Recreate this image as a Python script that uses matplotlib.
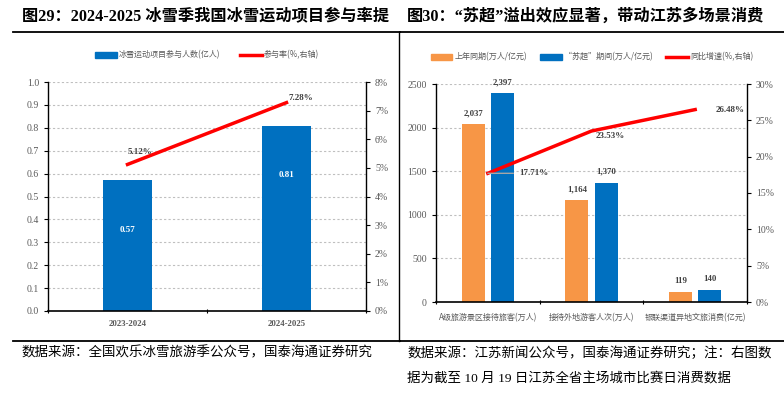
import numpy as np
import matplotlib
matplotlib.use('Agg')
from matplotlib import pyplot as plt
from matplotlib.lines import Line2D
from matplotlib.patches import Patch

plt.rcParams['font.family'] = ['Liberation Serif', 'Noto Sans CJK SC', 'DejaVu Sans']

# ---- data: left chart
seasons = ['2023-2024', '2024-2025']
participants = [0.57, 0.81]          # 亿人
part_rate = [5.12, 7.28]             # %

# ---- data: right chart
items = ['A级旅游景区接待旅客(万人)', '接待外地游客人次(万人)', '银联渠道异地文旅消费(亿元)']
last_year = [2037, 1164, 119]
suchao = [2397, 1370, 140]
yoy = [17.71, 23.53, 26.48]

BLUE = '#0070C0'
ORANGE = '#F79646'
RED = '#FF0000'
GRAY = '#595959'
DARK = '#404040'
serif = ['Liberation Serif']
sans = ['Noto Sans CJK SC', 'DejaVu Sans']
mixed = ['Liberation Serif', 'Noto Sans CJK SC']

W, H = 784, 397
fig = plt.figure(figsize=(W / 100, H / 100), dpi=100)


def fx(px):
    return px / W


def fy(py):
    return 1 - py / H


# frame lines and titles
for x0, x1 in [(13, 400), (400, 784)]:
    fig.add_artist(Line2D([fx(x0), fx(x1)], [fy(32), fy(32)], color='black', lw=1.3))
    fig.add_artist(Line2D([fx(x0), fx(x1)], [fy(341), fy(341)], color='black', lw=1.3))
fig.add_artist(Line2D([fx(399), fx(399)], [fy(32), fy(341)], color='black', lw=1.0))

fig.text(fx(22), fy(17), '图29：2024-2025 冰雪季我国冰雪运动项目参与率提', fontsize=11.7, fontweight='bold',
         va='center', ha='left', family=mixed)
fig.text(fx(407), fy(17), '图30：“苏超”溢出效应显著，带动江苏多场景消费', fontsize=11.7, fontweight='bold',
         va='center', ha='left', family=mixed)

fig.text(fx(22), fy(353), '数据来源：全国欢乐冰雪旅游季公众号，国泰海通证券研究', fontsize=9.7,
         va='center', ha='left', family=mixed)
fig.text(fx(407), fy(353), '数据来源：江苏新闻公众号，国泰海通证券研究；注：右图数', fontsize=9.7,
         va='center', ha='left', family=mixed)
fig.text(fx(407), fy(379), '据为截至 10 月 19 日江苏全省主场城市比赛日消费数据', fontsize=9.7,
         va='center', ha='left', family=mixed)


def style_axes(ax, ax2):
    for a in (ax, ax2):
        a.spines['top'].set_visible(False)
        a.set_facecolor('none')
    ax.spines['right'].set_visible(False)
    ax2.spines['left'].set_visible(False)
    ax2.spines['bottom'].set_visible(False)
    ax.spines['left'].set_linewidth(1.0)
    ax.spines['bottom'].set_linewidth(1.2)
    ax2.spines['right'].set_linewidth(1.0)
    for a in (ax, ax2):
        a.tick_params(axis='y', labelsize=7, color='black', length=3, direction='out', labelcolor=GRAY)
    for lab in ax.get_yticklabels() + ax2.get_yticklabels():
        lab.set_family(serif)
    ax.grid(axis='y', color='#BFBFBF', linestyle=(0, (2, 2)), lw=0.8)
    ax.set_axisbelow(True)


# ---------------- left chart
axL = fig.add_axes([fx(48), fy(311), fx(366 - 48), (311 - 82) / H])
xL = np.arange(len(seasons))
axL.bar(xL, participants, width=0.31, color=BLUE, zorder=2)
axL.set_xlim(-0.5, 1.5)
axL.set_ylim(0, 1.0)
axL.set_yticks(np.arange(0, 1.01, 0.1))
axL.set_yticklabels(['%.1f' % v for v in np.arange(0, 1.01, 0.1)])
axL.set_xticks([-0.5, 0.5, 1.5])
axL.set_xticklabels([])
axL.tick_params(axis='x', length=3, direction='inout')
for x, v in zip(xL, participants):
    axL.text(x, v - 0.215, '%.2f' % v, color='white', fontsize=6.5, fontweight='bold',
             ha='center', va='center', family=serif)
    axL.text(x, -0.057, seasons[x], color=GRAY, fontsize=6.3, fontweight='bold',
             ha='center', va='center', family=serif)
axL2 = axL.twinx()
axL2.plot(xL, part_rate, color=RED, lw=2.5, zorder=3)
axL2.set_ylim(0, 8)
axL2.set_yticks(range(0, 9))
axL2.set_yticklabels(['%d%%' % v for v in range(0, 9)])
axL2.text(xL[0], part_rate[0] + 0.43, '%.2f%%' % part_rate[0], fontsize=6.5, fontweight='bold',
          color=DARK, ha='left', va='center', family=serif)
axL2.text(xL[1] + 0.01, part_rate[1] + 0.16, '%.2f%%' % part_rate[1], fontsize=6.5, fontweight='bold',
          color=DARK, ha='left', va='center', family=serif)
style_axes(axL, axL2)

handlesL = [Patch(color=BLUE), Line2D([0], [0], color=RED, lw=2.5)]
fig.legend(handlesL, ['冰雪运动项目参与人数(亿人)', '参与率(%,右轴)'], loc='center',
           bbox_to_anchor=(fx(207), fy(55)), ncol=2, frameon=False,
           prop={'family': sans, 'size': 5.8}, handlelength=2.7, handleheight=0.8,
           columnspacing=2.5, handletextpad=0.25, labelcolor=GRAY)

# ---------------- right chart
axR = fig.add_axes([fx(436), fy(302), fx(747 - 436), (302 - 84) / H])
xR = np.arange(len(items))
axR.bar(xR - 0.142, last_year, width=0.22, color=ORANGE, zorder=2)
axR.bar(xR + 0.142, suchao, width=0.22, color=BLUE, zorder=2)
axR.set_xlim(-0.5, 2.5)
axR.set_ylim(0, 2500)
axR.set_yticks(range(0, 2501, 500))
axR.set_xticks([-0.5, 0.5, 1.5, 2.5])
axR.set_xticklabels([])
axR.tick_params(axis='x', length=3, direction='inout')
for x, a, b in zip(xR, last_year, suchao):
    axR.text(x - 0.142, a + 80, format(a, ','), fontsize=6.3, fontweight='bold', color=DARK,
             ha='center', va='bottom', family=serif)
    axR.text(x + 0.142, b + 80, format(b, ','), fontsize=6.3, fontweight='bold', color=DARK,
             ha='center', va='bottom', family=serif)
    axR.text(x, -185, items[x], fontsize=5.8, color=GRAY, ha='center', va='center', family=sans)
axR2 = axR.twinx()
axR2.plot(xR, yoy, color=RED, lw=2.5, zorder=3)
axR2.set_ylim(0, 30)
axR2.set_yticks(range(0, 31, 5))
axR2.set_yticklabels(['%d%%' % v for v in range(0, 31, 5)])
axR2.annotate('%.2f%%' % yoy[0], xy=(xR[0], yoy[0]), xytext=(xR[0] + 0.3, yoy[0]),
              fontsize=6.5, fontweight='bold', color=DARK, ha='left', va='center', family=serif,
              arrowprops=dict(arrowstyle='-', color='#A6A6A6', lw=1.0, shrinkA=2, shrinkB=0))
axR2.text(xR[1] + 0.18, yoy[1] - 0.7, '%.2f%%' % yoy[1], fontsize=6.5, fontweight='bold',
          color=DARK, ha='center', va='center', family=serif)
axR2.text(xR[2] + 0.2, yoy[2], '%.2f%%' % yoy[2], fontsize=6.5, fontweight='bold',
          color=DARK, ha='left', va='center', family=serif)
style_axes(axR, axR2)

handlesR = [Patch(color=ORANGE), Patch(color=BLUE), Line2D([0], [0], color=RED, lw=2.5)]
fig.legend(handlesR, ['上年同期(万人/亿元)', '“苏超”期间(万人/亿元)', '同比增速(%,右轴)'], loc='center',
           bbox_to_anchor=(fx(592), fy(57)), ncol=3, frameon=False,
           prop={'family': sans, 'size': 5.8}, handlelength=2.7, handleheight=0.8,
           columnspacing=1.6, handletextpad=0.3, labelcolor=GRAY)

fig.savefig('out.png', dpi=100)
